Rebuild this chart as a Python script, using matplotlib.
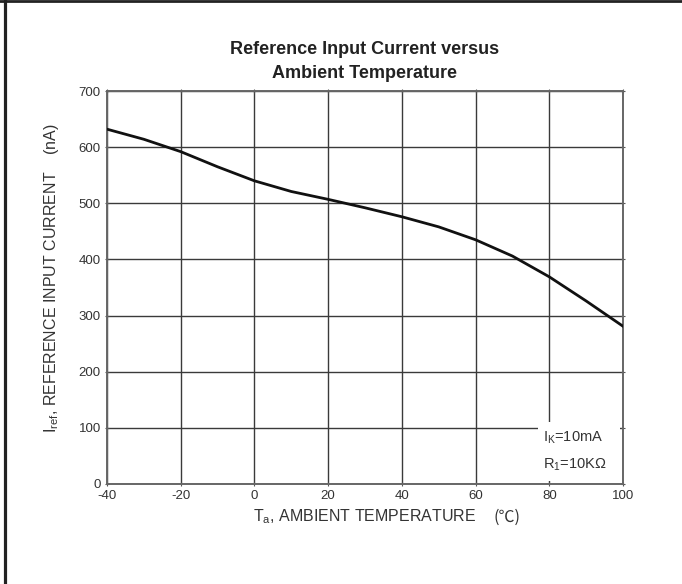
import matplotlib
matplotlib.use('Agg')
import matplotlib.pyplot as plt
from matplotlib.lines import Line2D
from matplotlib.patches import Rectangle

plt.rcParams['font.family'] = ['Liberation Sans', 'DejaVu Sans']
plt.rcParams['mathtext.fontset'] = 'custom'
plt.rcParams['mathtext.rm'] = 'Liberation Sans'
plt.rcParams['mathtext.it'] = 'Liberation Sans:italic'
plt.rcParams['axes.unicode_minus'] = False

# Ta (C) vs Iref (nA)
temperatura = [-40, -30, -20, -10, 0, 10, 20, 30, 40, 50, 60, 70, 80, 90, 100]
arus_ref = [632, 614, 592, 565, 540, 521, 507, 492, 476, 458, 435, 406, 369, 326, 281]

x_ticks = [-40, -20, 0, 20, 40, 60, 80, 100]
y_ticks = [0, 100, 200, 300, 400, 500, 600, 700]

teks = '#333333'

fig = plt.figure(figsize=(6.82, 5.84), dpi=100)
ax = fig.add_axes([107 / 682, 1 - 484 / 584, 516 / 682, 393 / 584])

ax.plot(temperatura, arus_ref, color='#111111', lw=2.0, zorder=3)

ax.set_xlim(-40, 100)
ax.set_ylim(0, 700)
ax.set_xticks(x_ticks)
ax.set_yticks(y_ticks)
ax.set_axisbelow(True)
ax.grid(True, color='#3a3a3a', lw=1.0)
ax.tick_params(labelsize=9.5, labelcolor=teks, color='#555555', direction='inout',
               length=3, top=True, right=True, pad=3)
for s in ax.spines.values():
    s.set_color('#666666')
    s.set_linewidth(1.4)

# white box behind the conditions text
ax.add_patch(Rectangle((0.835, 0.008), 0.16, 0.15, transform=ax.transAxes,
                       facecolor='white', edgecolor='none', zorder=1))
ax.text(0.845, 0.118, r'I$_\mathrm{K}$=10mA', transform=ax.transAxes,
        fontsize=10.5, color=teks, va='center', ha='left', zorder=4)
ax.text(0.845, 0.05, r'R$_\mathrm{1}$=10K$\Omega$', transform=ax.transAxes,
        fontsize=10.5, color=teks, va='center', ha='left', zorder=4)

ax.set_title('Reference Input Current versus\nAmbient Temperature',
             fontsize=13, fontweight='bold', color='#222222', pad=9,
             linespacing=1.55)

ax.set_xlabel(r'T$_\mathrm{a}$, AMBIENT TEMPERATURE', fontsize=11.5,
              color=teks, va='center')
ax.xaxis.set_label_coords(0.5, -0.084)
fig.text(507 / 682, 1 - 517 / 584, '(℃)', fontsize=11.5, color=teks,
         ha='center', va='center', family=['Noto Sans CJK SC', 'DejaVu Sans'])

ax.set_ylabel(r'I$_\mathrm{ref}$, REFERENCE INPUT CURRENT    (nA)',
              fontsize=11.5, color=teks, va='center')
ax.yaxis.set_label_coords(-0.107, 0.524)

# frame of the original scan
fig.add_artist(Line2D([4.5 / 682, 4.5 / 682], [0, 1], color='#222222', lw=2.3))
fig.add_artist(Line2D([0, 1], [1 - 1.3 / 584, 1 - 1.3 / 584], color='#222222', lw=2.0))

fig.savefig('out.png', dpi=100)
